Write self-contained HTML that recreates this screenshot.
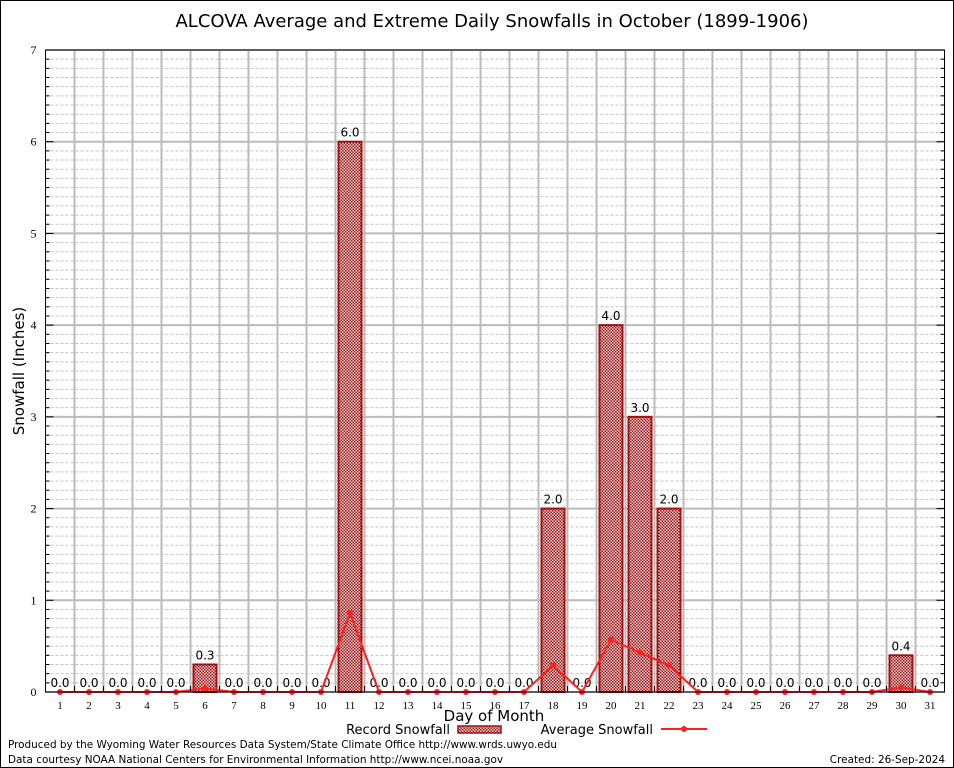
<!DOCTYPE html>
<html><head><meta charset="utf-8"><style>
body{margin:0;background:#fff;}
svg{display:block;font-family:"DejaVu Sans","Liberation Sans",sans-serif;}
</style></head><body>
<svg id="chart" width="954" height="768" viewBox="0 0 954 768">
<defs>
<pattern id="chk" width="3" height="3" patternUnits="userSpaceOnUse">
<rect width="3" height="3" fill="#f2d8d8"/>
<rect width="1.5" height="1.5" fill="#a01010"/>
<rect x="1.5" y="1.5" width="1.5" height="1.5" fill="#a01010"/>
</pattern>
</defs>
<rect x="0.5" y="0.5" width="953" height="767" fill="#fff" stroke="#000"/>
<text x="492" y="27" font-size="18" text-anchor="middle">ALCOVA Average and Extreme Daily Snowfalls in October (1899-1906)</text>
<g id="grid"></g>
<g id="bars"></g>
<g id="avg"></g>
<g id="axes"></g>
<text transform="translate(24,371) rotate(-90)" font-size="15" text-anchor="middle">Snowfall (Inches)</text>
<text x="494" y="721" font-size="15" text-anchor="middle">Day of Month</text>
<g>
<text x="450" y="734" font-size="13" text-anchor="end">Record Snowfall</text>
<rect x="458" y="726" width="43" height="7" fill="url(#chk)" stroke="#a01010" stroke-width="1.5"/>
<text x="653" y="734" font-size="13" text-anchor="end">Average Snowfall</text>
<line x1="661" y1="729" x2="707" y2="729" stroke="#ff2020" stroke-width="2"/>
<circle cx="684" cy="729" r="3" fill="#ff2020"/>
</g>
<text x="8" y="748" font-size="10.45">Produced by the Wyoming Water Resources Data System/State Climate Office http://www.wrds.uwyo.edu</text>
<text x="8" y="763" font-size="10.45">Data courtesy NOAA National Centers for Environmental Information http://www.ncei.noaa.gov</text>
<text x="945" y="763" font-size="10.45" text-anchor="end">Created:  26-Sep-2024</text>
</svg>
<script>
const days = [1,2,3,4,5,6,7,8,9,10,11,12,13,14,15,16,17,18,19,20,21,22,23,24,25,26,27,28,29,30,31];
const recordSnow = [0,0,0,0,0,0.3,0,0,0,0,6.0,0,0,0,0,0,0,2.0,0,4.0,3.0,2.0,0,0,0,0,0,0,0,0.4,0];
const avgSnow = [0,0,0,0,0,0.04,0,0,0,0,0.86,0,0,0,0,0,0,0.29,0,0.57,0.43,0.29,0,0,0,0,0,0,0,0.05,0];
const yTicks = [0,1,2,3,4,5,6,7];

const NS="http://www.w3.org/2000/svg";
const L=45.5,R=944.5,T=50,B=692,yMax=7;
const slot=(R-L)/days.length;
const xS=d=>L+(d-0.5)*slot;
const yS=v=>B-(v/yMax)*(B-T);
function mk(tag,attrs,parent){const e=document.createElementNS(NS,tag);for(const k in attrs)e.setAttribute(k,attrs[k]);parent.appendChild(e);return e;}
const grid=document.getElementById('grid'),bars=document.getElementById('bars'),avg=document.getElementById('avg'),axes=document.getElementById('axes');
for(let i=1;i<yMax*10;i++){if(i%10===0)continue;const y=yS(i/10);
 const l=mk('line',{x1:L,x2:R,y1:y,y2:y,stroke:'#c4c4c4','stroke-width':1,'stroke-dasharray':'3,2'},grid);
 
 }
yTicks.forEach(v=>{const y=yS(v);
 const l=mk('line',{x1:L,x2:R,y1:y,y2:y,stroke:'#bbb','stroke-width':2},grid);
 
 
 const t=mk('text',{x:L-9,y:y+4,'font-size':12,'text-anchor':'end','font-family':'Liberation Serif, serif'},axes);t.textContent=v;
 
 
 mk('line',{x1:L,x2:L+8,y1:y,y2:y,stroke:'#000'},axes);
 mk('line',{x1:R,x2:R-8,y1:y,y2:y,stroke:'#000'},axes);
 if(v<yMax)for(let k=1;k<10;k++){const yy=yS(v+k/10);mk('line',{x1:L,x2:L+4,y1:yy,y2:yy,stroke:'#000'},axes);mk('line',{x1:R,x2:R-4,y1:yy,y2:yy,stroke:'#000'},axes);}
});
for(let i=1;i<days.length;i++){const x=L+i*slot;
 const l=mk('line',{x1:x,x2:x,y1:T,y2:B,stroke:'#bbb','stroke-width':2},grid);
 
 }
days.forEach((d,i)=>{const x=xS(d);
 mk('line',{x1:L+i*slot,x2:L+i*slot,y1:B,y2:B-6,stroke:'#000'},axes);
 const t=mk('text',{x:x,y:B+17,'font-size':11,'text-anchor':'middle','font-family':'Liberation Serif, serif'},axes);t.textContent=d;
 
 
 const v=recordSnow[i];
 if(v>0){const r=mk('rect',{x:x-11.5,y:yS(v),width:23,height:B-yS(v),fill:'url(#chk)',stroke:'#a01010','stroke-width':2},bars);
  
  }
 const lb=mk('text',{x:x,y:yS(v)-5,'font-size':12,'text-anchor':'middle'},bars);lb.textContent=v.toFixed(1);
 
 
});
const pl=mk('polyline',{points:days.map((d,i)=>xS(d)+','+yS(avgSnow[i])).join(' '),fill:'none',stroke:'#ff2020','stroke-width':2},avg);


days.forEach((d,i)=>{const c=mk('circle',{cx:xS(d),cy:yS(avgSnow[i]),r:3,fill:'#ff2020'},avg);
 
 });
const fr=mk('rect',{x:L,y:T,width:R-L,height:B-T,fill:'none',stroke:'#000','stroke-width':1},axes);


</script>
</body></html>
